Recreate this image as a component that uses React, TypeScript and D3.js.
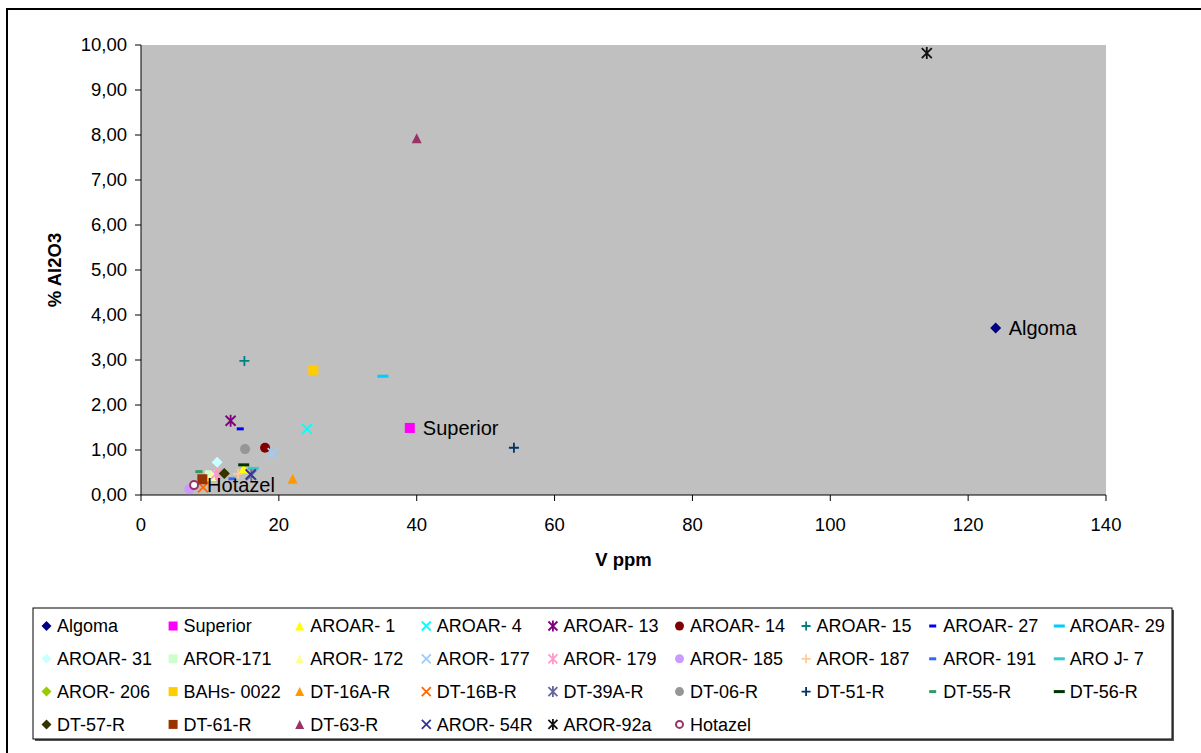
import React from "react";
import * as d3 from "d3";

// Samples, in legend order
const sampleNames = [
  "Algoma", "Superior", "AROAR- 1", "AROAR- 4", "AROAR- 13", "AROAR- 14", "AROAR- 15", "AROAR- 27", "AROAR- 29",
  "AROAR- 31", "AROR-171", "AROR- 172", "AROR- 177", "AROR- 179", "AROR- 185", "AROR- 187", "AROR- 191", "ARO J- 7",
  "AROR- 206", "BAHs- 0022", "DT-16A-R", "DT-16B-R", "DT-39A-R", "DT-06-R", "DT-51-R", "DT-55-R", "DT-56-R",
  "DT-57-R", "DT-61-R", "DT-63-R", "AROR- 54R", "AROR-92a", "Hotazel",
];

// V (ppm)
const vPpm = [
  124, 39, 14.9, 24.1, 13.0, 18.0, 15.0, 14.4, 35.1,
  11.05, 10.0, 10.2, 19.1, 10.9, 7.0, 14.1, 13.2, 16.3,
  12.0, 25.0, 22.0, 9.0, 16.0, 15.1, 54.1, 8.4, 14.9,
  12.1, 8.9, 40.0, 15.9, 114.0, 7.7,
];

// Al2O3 (%)
const al2o3 = [
  3.71, 1.49, 0.59, 1.47, 1.65, 1.05, 2.98, 1.47, 2.64,
  0.73, 0.44, 0.42, 0.93, 0.47, 0.13, 0.47, 0.36, 0.59,
  0.48, 2.78, 0.36, 0.17, 0.44, 1.02, 1.05, 0.52, 0.67,
  0.48, 0.35, 7.93, 0.46, 9.82, 0.22,
];

const seriesColors = [
  "#000080", "#FF00FF", "#FFFF00", "#00FFFF", "#800080", "#800000", "#008080", "#0000FF", "#00CCFF",
  "#CCFFFF", "#CCFFCC", "#FFFF99", "#99CCFF", "#FF99CC", "#CC99FF", "#FFCC99", "#3366FF", "#33CCCC",
  "#99CC00", "#FFCC00", "#FF9900", "#FF6600", "#666699", "#969696", "#003366", "#339966", "#003300",
  "#333300", "#993300", "#993366", "#333399", "#111111", "#993366",
];

const seriesShapes = [
  "diamond", "square", "triangle", "x", "star", "circle", "plus", "dash", "longdash",
  "diamond", "square", "triangle", "x", "star", "circle", "plus", "dash", "longdash",
  "diamond", "square", "triangle", "x", "star", "circle", "plus", "dash", "longdash",
  "diamond", "square", "triangle", "x", "star", "opencircle",
];

// Samples that carry a data label with their name
const labelledSamples = ["Algoma", "Superior", "Hotazel"];

const xTicks = [0, 20, 40, 60, 80, 100, 120, 140];
const yTicks = [0, 1, 2, 3, 4, 5, 6, 7, 8, 9, 10];

const FONT = "'Liberation Sans', Arial, Helvetica, sans-serif";

const locale = d3.formatLocale({ decimal: ",", thousands: ".", grouping: [3], currency: ["", ""] });
const fmtY = locale.format(".2f");

function Marker({ shape, color, cx, cy, s }: { shape: string; color: string; cx: number; cy: number; s: number }) {
  const h = s / 2;
  switch (shape) {
    case "diamond":
      return <path d={`M${cx},${cy - h - 0.5}L${cx + h + 0.5},${cy}L${cx},${cy + h + 0.5}L${cx - h - 0.5},${cy}Z`} fill={color} />;
    case "square":
      return <rect x={cx - h} y={cy - h} width={s} height={s} fill={color} />;
    case "triangle":
      return <path d={`M${cx},${cy - h}L${cx + h},${cy + h}L${cx - h},${cy + h}Z`} fill={color} />;
    case "circle":
      return <circle cx={cx} cy={cy} r={h} fill={color} />;
    case "opencircle":
      return <circle cx={cx} cy={cy} r={h - 1} fill="#FFFFFF" stroke={color} strokeWidth={2} />;
    case "x":
      return (
        <path d={`M${cx - h},${cy - h}L${cx + h},${cy + h}M${cx + h},${cy - h}L${cx - h},${cy + h}`} stroke={color} strokeWidth={1.8} fill="none" />
      );
    case "star":
      return (
        <path
          d={`M${cx - h},${cy - h}L${cx + h},${cy + h}M${cx + h},${cy - h}L${cx - h},${cy + h}M${cx},${cy - h - 1}L${cx},${cy + h + 1}`}
          stroke={color}
          strokeWidth={1.8}
          fill="none"
        />
      );
    case "plus":
      return <path d={`M${cx - h},${cy}L${cx + h},${cy}M${cx},${cy - h}L${cx},${cy + h}`} stroke={color} strokeWidth={1.8} fill="none" />;
    case "dash":
      return <rect x={cx - 3.5} y={cy - 1.5} width={7} height={3} fill={color} />;
    case "longdash":
      return <rect x={cx - 5.5} y={cy - 1.5} width={11} height={3} fill={color} />;
    default:
      return null;
  }
}

export default function App() {
  const W = 1201;
  const H = 753;
  const x = d3.scaleLinear().domain([0, 140]).range([141, 1106]);
  const y = d3.scaleLinear().domain([0, 10]).range([495, 45]);

  const legendCols = 9;
  const legendX0 = 57;
  const legendDx = 126.6;
  const legendY0 = 626;
  const legendDy = 32.8;

  return (
    <svg width={W} height={H} style={{ position: "absolute", left: 0, top: 0 }} fontFamily={FONT}>
      <rect x={0} y={0} width={W} height={H} fill="#FFFFFF" />
      {/* outer chart frame */}
      <rect x={7} y={9} width={W + 20} height={H + 20} fill="none" stroke="#000" strokeWidth={2} />

      {/* plot area */}
      <rect x={x(0)} y={y(10)} width={x(140) - x(0)} height={y(0) - y(10)} fill="#C0C0C0" />

      {/* axes */}
      <line x1={x(0)} x2={x(0)} y1={y(10)} y2={y(0)} stroke="#000" strokeWidth={1} />
      <line x1={x(0)} x2={x(140)} y1={y(0)} y2={y(0)} stroke="#000" strokeWidth={1} />
      {yTicks.map((t) => (
        <g key={"y" + t}>
          <line x1={x(0) - 6} x2={x(0)} y1={y(t)} y2={y(t)} stroke="#000" />
          <text x={127} y={y(t)} dy="0.35em" textAnchor="end" fontSize={18.5} fill="#000">
            {fmtY(t)}
          </text>
        </g>
      ))}
      {xTicks.map((t) => (
        <g key={"x" + t}>
          <line x1={x(t)} x2={x(t)} y1={y(0)} y2={y(0) + 6} stroke="#000" />
          <text x={x(t)} y={525} dy="0.35em" textAnchor="middle" fontSize={18.5} fill="#000">
            {t}
          </text>
        </g>
      ))}

      <text x={x(70)} y={560} dy="0.35em" textAnchor="middle" fontSize={18.5} fontWeight="bold">
        V ppm
      </text>
      <text transform={`translate(55,270) rotate(-90)`} dy="0.35em" textAnchor="middle" fontSize={18.5} fontWeight="bold">
        % Al2O3
      </text>

      {/* data points */}
      {sampleNames.map((name, i) => (
        <Marker key={name} shape={seriesShapes[i]} color={seriesColors[i]} cx={x(vPpm[i])} cy={y(al2o3[i])} s={10} />
      ))}

      {/* data labels */}
      {sampleNames.map((name, i) =>
        labelledSamples.includes(name) ? (
          <text key={"l" + name} x={x(vPpm[i]) + 13} y={y(al2o3[i])} dy="0.35em" fontSize={20} fill="#000">
            {name}
          </text>
        ) : null
      )}

      {/* legend */}
      <rect x={35} y={610} width={1139} height={131} fill="#555" />
      <rect x={33} y={608} width={1139} height={131} fill="#FFFFFF" stroke="#000" strokeWidth={1} />
      {sampleNames.map((name, i) => {
        const c = i % legendCols;
        const r = Math.floor(i / legendCols);
        const tx = legendX0 + c * legendDx;
        const ty = legendY0 + r * legendDy;
        return (
          <g key={"g" + name}>
            <Marker shape={seriesShapes[i]} color={seriesColors[i]} cx={tx - 10.5} cy={ty} s={9} />
            <text x={tx} y={ty} dy="0.35em" fontSize={18} fill="#000">
              {name}
            </text>
          </g>
        );
      })}
    </svg>
  );
}
